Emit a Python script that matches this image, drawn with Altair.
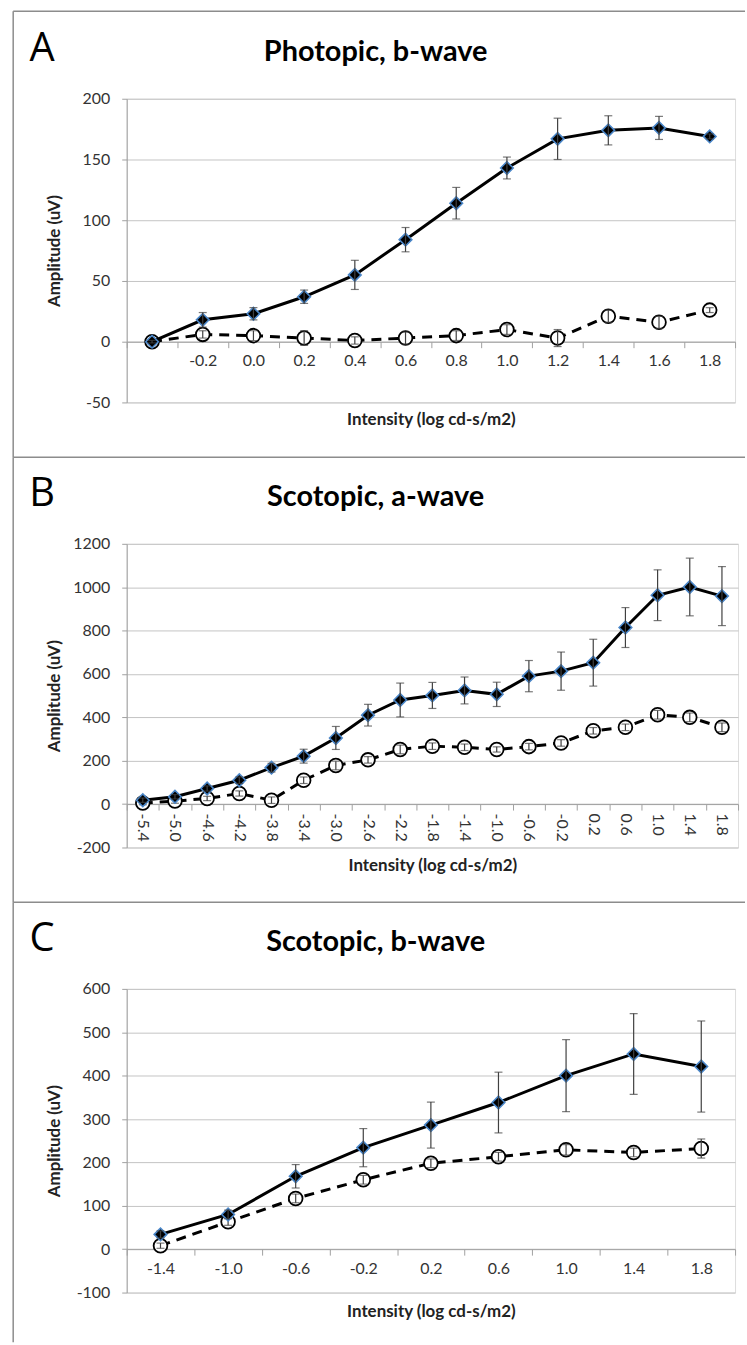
import altair as alt
import pandas as pd

# ---------------- data ----------------
cats_A = [" ", "-0.2", "0.0", "0.2", "0.4", "0.6", "0.8", "1.0", "1.2", "1.4", "1.6", "1.8"]
solid_A = [0, 18, 23, 37, 55, 84, 114, 143, 167, 174, 176, 169]
solid_A_err = [1, 6, 5, 5.5, 12, 10, 13, 9, 17, 12, 9.5, 2]
dashed_A = [0, 6, 5, 3, 1, 3, 5, 10, 3, 21, 16, 26]
dashed_A_err = [1, 3, 4, 6, 3, 5, 4, 4, 7, 5, 5, 2]
yticks_A = [-50, 0, 50, 100, 150, 200]

cats_B = ["-5.4", "-5.0", "-4.6", "-4.2", "-3.8", "-3.4", "-3.0", "-2.6", "-2.2", "-1.8",
          "-1.4", "-1.0", "-0.6", "-0.2", "0.2", "0.6", "1.0", "1.4", "1.8"]
solid_B = [18, 34, 72, 110, 168, 221, 305, 410, 480, 501, 524, 506, 590, 613, 652, 814, 963, 1001, 959]
solid_B_err = [10, 10, 12, 15, 20, 32, 53, 50, 78, 60, 62, 56, 72, 88, 108, 92, 117, 133, 136]
dashed_B = [5, 14, 26, 49, 18, 110, 178, 204, 252, 267, 262, 252, 265, 282, 338, 354, 412, 400, 354]
dashed_B_err = [8, 10, 10, 12, 15, 15, 20, 15, 20, 15, 15, 12, 15, 15, 15, 15, 20, 20, 20]
yticks_B = [-200, 0, 200, 400, 600, 800, 1000, 1200]

cats_C = ["-1.4", "-1.0", "-0.6", "-0.2", "0.2", "0.6", "1.0", "1.4", "1.8"]
solid_C = [34, 80, 168, 234, 286, 338, 400, 450, 421]
solid_C_err = [8, 10, 27, 44, 53, 70, 83, 93, 105]
dashed_C = [8, 63, 117, 160, 198, 213, 229, 223, 232]
dashed_C_err = [6, 8, 10, 10, 10, 10, 12, 10, 22]
yticks_C = [-100, 0, 100, 200, 300, 400, 500, 600]

x_title = "Intensity (log cd-s/m2)"
y_title = "Amplitude (uV)"

FONT = "Lato"
GRID = "#c4c4c4"
FRAME = "#8c8c8c"
H = 305


def panel(cats, solid, serr, dashed, derr, yticks, width, letter, title,
          x_offset, x_title_y, label_angle, frame_top, frame_bottom):
    df = pd.DataFrame({"cat": cats, "solid": solid, "serr": serr,
                       "dashed": dashed, "derr": derr})
    base = alt.Chart(df).transform_calculate(
        s_lo="datum.solid - datum.serr", s_hi="datum.solid + datum.serr",
        d_lo="datum.dashed - datum.derr", d_hi="datum.dashed + datum.derr")

    common_x = dict(title=x_title, offset=x_offset, tickBand="extent", grid=False,
                    domainColor="#a0a0a0", tickColor="#a0a0a0", tickSize=6,
                    labelFontSize=16, labelColor="#333333", labelFont=FONT,
                    titleFont=FONT, titleFontSize=17, titleFontWeight="bold",
                    titleY=x_title_y, titleBaseline="middle", titleColor="#222222")
    if label_angle == 0:
        xaxis = alt.Axis(labelAngle=0, labelPadding=5, **common_x)
    else:
        xaxis = alt.Axis(labelAngle=label_angle, labelAlign="left", labelBaseline="middle",
                         labelPadding=3, **common_x)
    x = alt.X("cat:N", sort=cats, bandPosition=0.5,
              scale=alt.Scale(type="band", paddingInner=0, paddingOuter=0), axis=xaxis)
    yaxis = alt.Axis(title=y_title, values=yticks, grid=True, gridColor=GRID,
                     labelExpr="'' + datum.value",
                     domainColor="#a0a0a0", tickColor="#a0a0a0", tickSize=5,
                     labelFontSize=16, labelPadding=12, labelColor="#333333", labelFont=FONT,
                     titleFont=FONT, titleFontSize=17, titleFontWeight="bold", titleColor="#222222",
                     titleX=-72, titleY=H / 2, titleAngle=270, titleAlign="center",
                     titleBaseline="middle")
    yscale = alt.Scale(domain=[yticks[0], yticks[-1]], nice=False, zero=False)

    def Y(f):
        return alt.Y(f, scale=yscale, axis=yaxis)

    d_line = base.mark_line(color="black", strokeWidth=3, strokeDash=[10, 7]).encode(x=x, y=Y("dashed:Q"))
    d_pts = base.mark_point(shape="circle", size=190, filled=False, fill="white", fillOpacity=1,
                            stroke="black", strokeWidth=1.8, opacity=1).encode(x=x, y=Y("dashed:Q"))
    d_err = base.mark_rule(color="#404040", strokeWidth=1.2).encode(x=x, y=Y("d_lo:Q"), y2="d_hi:Q")
    d_cap1 = base.mark_tick(color="#404040", orient="horizontal", size=8, thickness=1.2).encode(x=x, y=Y("d_lo:Q"))
    d_cap2 = base.mark_tick(color="#404040", orient="horizontal", size=8, thickness=1.2).encode(x=x, y=Y("d_hi:Q"))

    s_line = base.mark_line(color="black", strokeWidth=3).encode(x=x, y=Y("solid:Q"))
    s_pts = base.mark_point(shape="diamond", size=160, filled=True, fill="black",
                            stroke="#4a86c8", strokeWidth=1.6, opacity=1).encode(x=x, y=Y("solid:Q"))
    s_err = base.mark_rule(color="#404040", strokeWidth=1.2).encode(x=x, y=Y("s_lo:Q"), y2="s_hi:Q")
    s_cap1 = base.mark_tick(color="#404040", orient="horizontal", size=8, thickness=1.2).encode(x=x, y=Y("s_lo:Q"))
    s_cap2 = base.mark_tick(color="#404040", orient="horizontal", size=8, thickness=1.2).encode(x=x, y=Y("s_hi:Q"))

    deco = pd.DataFrame({"letter": [letter], "title": [title]})
    top_rule = alt.Chart(deco).mark_rule(color=FRAME, strokeWidth=1.5).encode(
        x=alt.value(-114), x2=alt.value(621), y=alt.value(frame_top))
    left_rule = alt.Chart(deco).mark_rule(color=FRAME, strokeWidth=1.5).encode(
        x=alt.value(-114), y=alt.value(frame_top), y2=alt.value(frame_bottom))
    letter_t = alt.Chart(deco).mark_text(font="Open Sans", fontSize=40, color="black",
                                         align="center", baseline="middle").encode(
        text="letter:N", x=alt.value(-85), y=alt.value(-50))
    title_t = alt.Chart(deco).mark_text(font=FONT, fontSize=29, fontWeight="bold", color="black",
                                        align="center", baseline="middle").encode(
        text="title:N", x=alt.value(250), y=alt.value(-47))

    return alt.layer(top_rule, left_rule, letter_t, title_t,
                     d_line, d_pts, d_err, d_cap1, d_cap2,
                     s_line, s_pts, s_err, s_cap1, s_cap2).properties(width=width, height=H)


pA = panel(cats_A, solid_A, solid_A_err, dashed_A, dashed_A_err, yticks_A, 611, "A",
           "Photopic, b-wave", -61, 78, 0, -88, 360)
pB = panel(cats_B, solid_B, solid_B_err, dashed_B, dashed_B_err, yticks_B, 614, "B",
           "Scotopic, a-wave", -43.6, 62, 90, -87, 360)
pC = panel(cats_C, solid_C, solid_C_err, dashed_C, dashed_C_err, yticks_C, 611, "C",
           "Scotopic, b-wave", -43.6, 63, 0, -87, 355)

chart = alt.vconcat(pA, pB, pC, spacing=142, bounds="flush").properties(
    padding={"left": 11.25, "top": 6.25, "right": 0, "bottom": 0}
).configure_view(strokeWidth=0).configure(background="white")

chart.save("out.html", embed_options={"renderer": "svg", "actions": False})
